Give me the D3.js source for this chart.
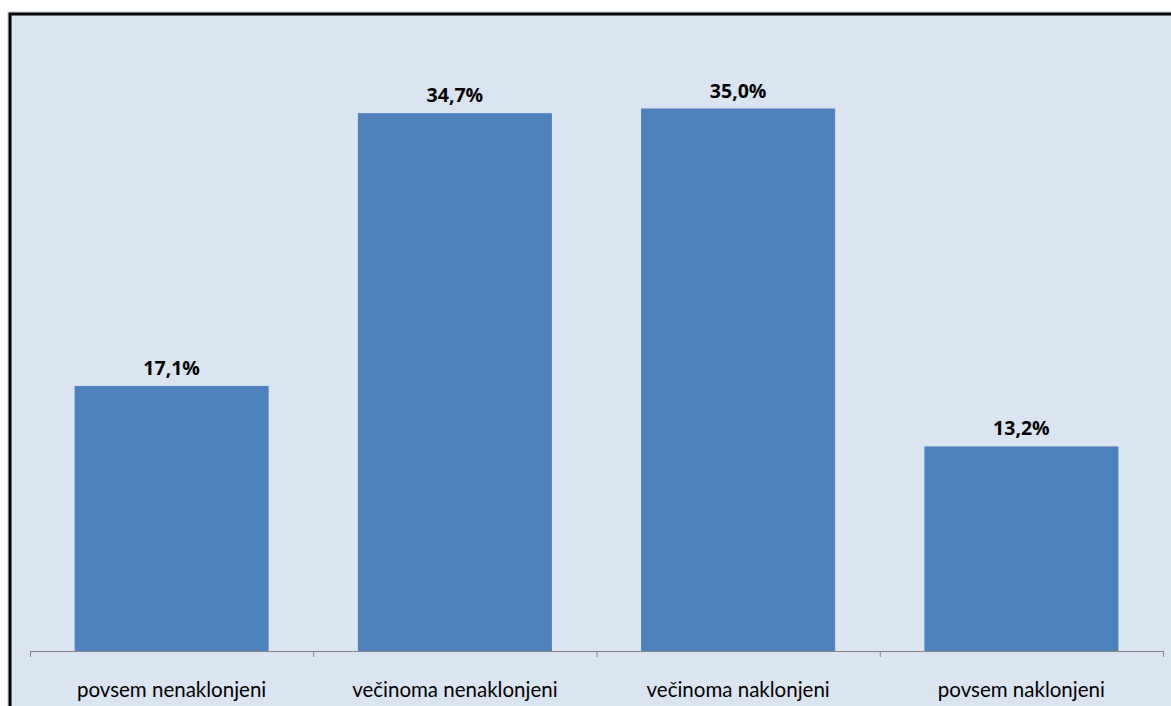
<!DOCTYPE html>
<html>
<head>
<meta charset="utf-8">
<script src="https://cdn.jsdelivr.net/npm/d3@7"></script>
<style>
  body { margin: 0; background: #fff; }
  .label { font-family: Lato, "Open Sans", sans-serif; font-size: 20.5px; fill: #000; }
  .value { font-family: "Open Sans", "DejaVu Sans", sans-serif; font-size: 19.5px; font-weight: bold; fill: #000; }
</style>
</head>
<body>
<svg width="1171" height="706"></svg>
<script>
const categories = ["povsem nenaklonjeni", "večinoma nenaklonjeni", "večinoma naklonjeni", "povsem naklonjeni"];
const values = [17.1, 34.7, 35.0, 13.2];
const valueLabels = ["17,1%", "34,7%", "35,0%", "13,2%"];

const svg = d3.select("svg");

// chart area background and frame
svg.append("rect")
    .attr("x", 7).attr("y", 11)
    .attr("width", 1164).attr("height", 695)
    .attr("fill", "#dbe5f1");
svg.append("path")
    .attr("d", "M10,706 V14 H1171")
    .attr("fill", "none")
    .attr("stroke", "#000")
    .attr("stroke-width", 3);

const plot = {left: 30, right: 1163, top: 31, bottom: 651};

const xScale = d3.scaleBand()
    .domain(categories)
    .range([plot.left, plot.right])
    .paddingInner(0.315)
    .paddingOuter(0.1575);

const yScale = d3.scaleLinear()
    .domain([0, 40])
    .range([plot.bottom, plot.top]);

const data = categories.map(function(c, i) {
  return {cat: c, value: values[i], label: valueLabels[i]};
});

// bars
svg.selectAll(".bar")
  .data(data)
  .enter().append("rect")
    .attr("class", "bar")
    .attr("x", function(d) { return xScale(d.cat); })
    .attr("y", function(d) { return yScale(d.value); })
    .attr("width", xScale.bandwidth())
    .attr("height", function(d) { return yScale(0) - yScale(d.value); })
    .attr("fill", "#4f81bd");

// value labels
svg.selectAll(".value")
  .data(data)
  .enter().append("text")
    .attr("class", "value")
    .attr("x", function(d) { return xScale(d.cat) + xScale.bandwidth() / 2; })
    .attr("y", function(d) { return yScale(d.value) - 11; })
    .attr("text-anchor", "middle")
    .text(function(d) { return d.label; });

// axis line and tick marks at category boundaries
svg.append("line")
    .attr("x1", plot.left).attr("x2", plot.right)
    .attr("y1", yScale(0) + 0.5).attr("y2", yScale(0) + 0.5)
    .attr("stroke", "#868686");

const boundaries = d3.range(categories.length + 1).map(function(i) {
  return plot.left + i * xScale.step();
});
svg.selectAll(".tick-mark")
  .data(boundaries)
  .enter().append("line")
    .attr("class", "tick-mark")
    .attr("x1", function(d) { return d + 0.5; })
    .attr("x2", function(d) { return d + 0.5; })
    .attr("y1", yScale(0))
    .attr("y2", yScale(0) + 6)
    .attr("stroke", "#868686");

// category labels
const xAxis = svg.append("g")
    .attr("transform", "translate(0," + yScale(0) + ")")
    .call(d3.axisBottom(xScale).tickSize(0).tickPadding(0));
xAxis.select(".domain").remove();
xAxis.attr("font-family", null).attr("font-size", null);
xAxis.selectAll("text")
    .attr("class", "label")
    .attr("dy", null)
    .attr("y", 46);
</script>
</body>
</html>
